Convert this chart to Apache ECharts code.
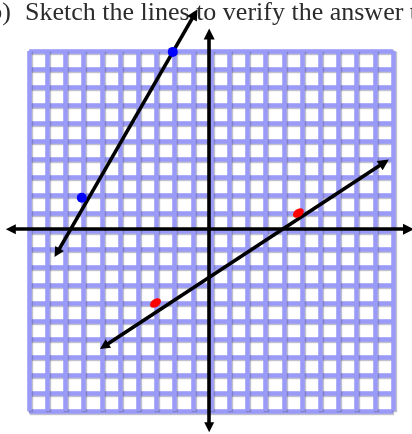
<!DOCTYPE html>
<html>
<head>
<meta charset="utf-8">
<script src="https://cdn.jsdelivr.net/npm/echarts@6/dist/echarts.min.js"></script>
<style>
  html, body { margin: 0; padding: 0; background: #fff; }
  #main { width: 412px; height: 434px; }
</style>
</head>
<body>
<div id="main"></div>
<script>
// grid range in graph units
const axisMin = -10;
const axisMax = 10;

// the two coordinate axes, drawn past the grid edge with arrows
const xAxisArrow = [[-11.0, 0.1], [10.85, 0.1]];
const yAxisArrow = [[-0.1, -10.9], [-0.1, 10.95]];

// sketched lines (arrowhead centre to arrowhead centre)
const blueLine = [[-8.46, -1.21], [-0.89, 12.06]];
const redLine = [[-5.87, -6.4], [9.52, 3.8]];

// plotted points
const bluePoints = [[-7.1, 1.85], [-2.1, 9.95]];
const redPoints = [[-3.05, -4.0], [4.8, 1.0]];

const label = 'b)';
const prompt = 'Sketch the lines to verify the answer to';

let myChart = echarts.init(document.getElementById('main'));

const gridLine = {
    show: true,
    lineStyle: {
        color: '#9a9af8',
        width: 4.5,
        shadowColor: 'rgba(80,80,110,0.35)',
        shadowBlur: 1,
        shadowOffsetX: 1,
        shadowOffsetY: 1
    }
};

function arrowLine(coords, color) {
    return {
        type: 'lines',
        coordinateSystem: 'cartesian2d',
        clip: false,
        symbol: ['triangle', 'triangle'],
        symbolSize: [10, 11],
        lineStyle: { color: color, width: 3.6, opacity: 1, curveness: 0 },
        data: [{ coords: coords }],
        z: 3,
        silent: true
    };
}

const option = {
    animation: false,
    backgroundColor: '#fff',
    grid: { left: 29, right: 19, top: 51, bottom: 23 },
    xAxis: {
        type: 'value',
        min: axisMin,
        max: axisMax,
        interval: 1,
        axisLine: { show: false },
        axisTick: { show: false },
        axisLabel: { show: false },
        splitLine: gridLine
    },
    yAxis: {
        type: 'value',
        min: axisMin,
        max: axisMax,
        interval: 1,
        axisLine: { show: false },
        axisTick: { show: false },
        axisLabel: { show: false },
        splitLine: gridLine
    },
    graphic: [
        {
            type: 'text',
            x: 11,
            y: 0,
            style: {
                text: label,
                font: '26px "Liberation Serif", serif',
                fill: '#2b2b2b',
                align: 'right',
                verticalAlign: 'top'
            }
        },
        {
            type: 'text',
            x: 25,
            y: 0,
            style: {
                text: prompt,
                font: '26px "Liberation Serif", serif',
                fill: '#2b2b2b',
                align: 'left',
                verticalAlign: 'top'
            }
        }
    ],
    series: [
        arrowLine(xAxisArrow, '#000'),
        arrowLine(yAxisArrow, '#000'),
        arrowLine(blueLine, '#000'),
        arrowLine(redLine, '#000'),
        {
            type: 'scatter',
            data: bluePoints,
            symbol: 'circle',
            symbolSize: 10,
            itemStyle: { color: '#0000ff', opacity: 1 },
            z: 4,
            silent: true
        },
        {
            type: 'scatter',
            data: redPoints,
            symbol: 'circle',
            symbolSize: [8, 12],
            symbolRotate: -55,
            itemStyle: { color: '#ff0000', opacity: 1 },
            z: 4,
            silent: true
        }
    ]
};

myChart.setOption(option);
</script>
</body>
</html>
